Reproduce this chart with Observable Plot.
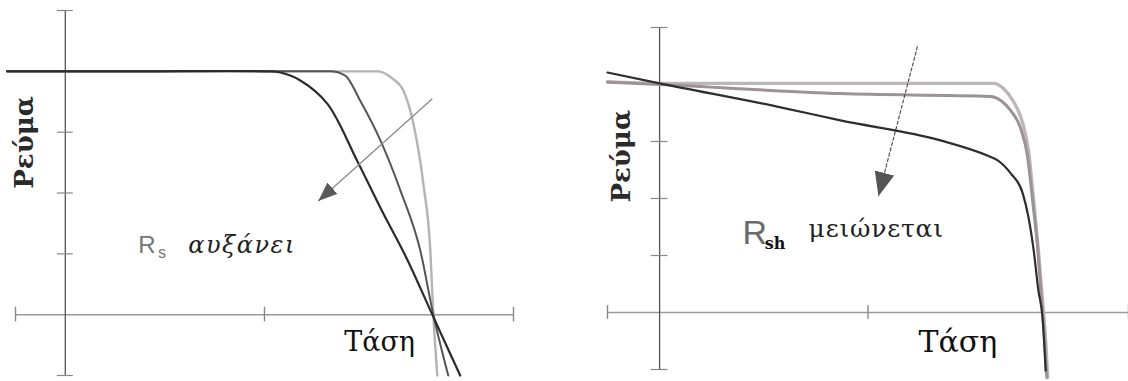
<!DOCTYPE html>
<html>
<head>
<meta charset="utf-8">
<script src="https://cdn.jsdelivr.net/npm/d3@7"></script>
<script src="https://cdn.jsdelivr.net/npm/@observablehq/plot@0.6"></script>
<style>
  html, body { margin: 0; padding: 0; background: #fff; }
  #wrap { position: relative; width: 1128px; height: 381px; overflow: hidden; }
  #wrap svg { position: absolute; top: 0; }
</style>
</head>
<body>
<div id="wrap"></div>
<script>
// ---- Left panel: I–V curves as the series resistance Rs grows ----
// points are [voltage, current], current normalised so that Isc = 4
const rsSmall  = [[-1.17,4],[3.0,4],[6.29,4],[6.57,3.88],[6.79,3.68],[6.99,3.14],[7.19,2.15],[7.33,1.05],[7.39,0],[7.47,-1]];
const rsMedium = [[-1.17,4],[2.5,4],[5.32,4],[5.62,3.93],[5.92,3.52],[6.33,2.86],[6.73,2.04],[7.13,1.05],[7.39,0],[7.69,-1]];
const rsLarge  = [[-1.17,4],[1.5,4],[4.0,4],[4.32,3.98],[4.72,3.85],[5.26,3.47],[5.86,2.53],[6.35,1.72],[6.87,0.90],[7.37,0],[7.93,-1]];

// ---- Right panel: I–V curves as the shunt resistance Rsh falls ----
const rshHigh = [[-1,4.05],[0,4.02],[6.41,4.02],[6.60,3.93],[6.78,3.72],[6.97,3.32],[7.08,2.84],[7.18,1.96],[7.27,1.09],[7.35,0.21],[7.41,-0.49],[7.45,-1.14]];
const rshMid  = [[-1,4.04],[0,4.0],[3.47,3.84],[6.35,3.79],[6.55,3.72],[6.74,3.54],[6.93,3.23],[7.06,2.75],[7.16,1.96],[7.26,1.09],[7.33,0.21],[7.39,-0.49],[7.43,-1.14]];
const rshLow  = [[-1,4.21],[0,4.02],[2.32,3.60],[3.47,3.37],[5.39,3.02],[6.30,2.75],[6.49,2.67],[6.74,2.44],[6.97,2.09],[7.08,1.67],[7.18,1.09],[7.27,0.39],[7.35,-0.09],[7.41,-1.02]];

// axis ticks (both panels share the same frame)
const yTicks = [-1, 1, 2, 3, 4, 5];
const xTicks = [-1, 4, 9];

// trend arrows: [from, to] in [voltage, current]
const rsArrow  = [{x1: 7.37, y1: 3.55, x2: 5.08, y2: 1.87}];
const rshArrow = [{x1: 4.95, y1: 4.67, x2: 4.20, y2: 2.04}];

// text labels
const axisCurrent = "Ρεύμα";
const axisVoltage = "Τάση";
const rsNote  = {sym: "R", sub: "s",  verb: "αυξάνει"};
const rshNote = {sym: "R", sub: "sh", verb: "μειώνεται"};

const serif = "DejaVu Serif";
const sans = "Liberation Sans";
const sansNarrow = "'Liberation Sans Narrow', 'Liberation Sans'";

// filled triangular arrow head
function triangleHead(fill, len, wid) {
  return (color, context) => {
    const doc = context.document;
    const ns = "http://www.w3.org/2000/svg";
    const m = doc.createElementNS(ns, "marker");
    m.setAttribute("viewBox", "0 -5 10 10");
    m.setAttribute("refX", "10");
    m.setAttribute("refY", "0");
    m.setAttribute("markerUnits", "userSpaceOnUse");
    m.setAttribute("markerWidth", len);
    m.setAttribute("markerHeight", wid);
    m.setAttribute("orient", "auto");
    m.setAttribute("preserveAspectRatio", "none");
    const p = doc.createElementNS(ns, "path");
    p.setAttribute("d", "M0,-5L10,0L0,5Z");
    p.setAttribute("fill", fill);
    p.setAttribute("stroke", "none");
    p.setAttribute("stroke-dasharray", "none");
    m.appendChild(p);
    return m;
  };
}

function frame(tx, ty) {
  return [
    Plot.ruleY([0], {x1: -1, x2: 9, stroke: "#9a9a9a", strokeWidth: 1.5}),
    Plot.ruleX([0], {y1: -1, y2: 5, stroke: "#555", strokeWidth: 1.3}),
    Plot.ruleY(yTicks, {x1: -tx, x2: tx, stroke: "#888", strokeWidth: 1.2}),
    Plot.ruleX(xTicks, {y1: -ty, y2: ty, stroke: "#888", strokeWidth: 1.4})
  ];
}

const line = (data, stroke, w, curve) =>
  Plot.line(data, {x: d => d[0], y: d => d[1], stroke, strokeWidth: w, curve, strokeLinecap: "round"});

const label = (text, x, y, o) =>
  Plot.text([text], {x, y, text: d => d, textAnchor: "start", lineAnchor: "bottom", ...o});

const left = Plot.plot({
  width: 560, height: 381,
  marginLeft: 15, marginRight: 47, marginTop: 10, marginBottom: 6,
  x: {domain: [-1, 9], axis: null},
  y: {domain: [-1, 5], axis: null},
  style: {background: "transparent", overflow: "visible"},
  marks: [
    ...frame(0.16, 0.12),
    line(rsSmall, "#b4b4b4", 2.4, "monotone-x"),
    line(rsMedium, "#555", 2, "monotone-x"),
    line(rsLarge, "#2b2b2b", 2.2, "catmull-rom"),
    Plot.link(rsArrow, {x1: "x1", y1: "y1", x2: "x2", y2: "y2", stroke: "#8a8a8a", strokeWidth: 1.3,
      markerEnd: triangleHead("#5a5a5a", 19, 15)}),
    label(axisCurrent, -0.64, 2.83, {textAnchor: "middle", rotate: -90,
      fontFamily: serif, fontSize: 26, fontWeight: "bold", fill: "#2a2a2a"}),
    label(axisVoltage, 5.6, -0.59, {fontFamily: serif, fontSize: 27, fill: "#111"}),
    label(rsNote.sym, 1.466, 1.02, {fontFamily: sans, fontSize: 24, fill: "#777"}),
    label(rsNote.sub, 1.86, 0.93, {fontFamily: sans, fontSize: 16, fill: "#777"}),
    label(rsNote.verb, 2.47, 1.02, {fontFamily: serif, fontStyle: "italic", fontSize: 24, fill: "#222"})
  ]
});

const right = Plot.plot({
  width: 558, height: 381,
  marginLeft: 37, marginRight: 0, marginTop: 27, marginBottom: 12,
  x: {domain: [-1, 9], axis: null},
  y: {domain: [-1, 5], axis: null},
  style: {background: "transparent", overflow: "visible"},
  marks: [
    ...frame(0.16, 0.12),
    line(rshHigh, "#bdb6b9", 3.4, "monotone-x"),
    line(rshMid, "#9b9397", 3, "monotone-x"),
    line(rshLow, "#2e2e2e", 2.2, "monotone-x"),
    Plot.link(rshArrow, {x1: "x1", y1: "y1", x2: "x2", y2: "y2", stroke: "#444", strokeWidth: 1.1,
      strokeDasharray: "4,1.5", markerEnd: triangleHead("#555", 24, 20)}),
    label(axisCurrent, -0.56, 2.74, {textAnchor: "middle", rotate: -90,
      fontFamily: serif, fontSize: 26, fontWeight: "bold", fill: "#2a2a2a"}),
    label(axisVoltage, 4.97, -0.70, {fontFamily: serif, fontSize: 30, fill: "#111"}),
    label(rshNote.sym, 1.59, 1.21, {fontFamily: sansNarrow, fontSize: 34, fill: "#6a6a6a"}),
    label(rshNote.sub, 2.02, 1.12, {fontFamily: serif, fontWeight: "bold", fontSize: 16, fill: "#111"}),
    label(rshNote.verb, 2.86, 1.32, {fontFamily: serif, fontSize: 25, fill: "#222"})
  ]
});

// the Greek annotations are set slightly wider than the default spacing
const spaced = new Map([[rsNote.verb, "1.5px"], [rshNote.verb, "0.8px"]]);
for (const svg of [left, right]) {
  d3.select(svg).selectAll("text")
    .filter(function () { return spaced.has(this.textContent); })
    .attr("letter-spacing", function () { return spaced.get(this.textContent); });
}

const wrap = document.getElementById("wrap");
left.style.left = "0px";
right.style.left = "570px";
wrap.appendChild(left);
wrap.appendChild(right);
</script>
</body>
</html>
